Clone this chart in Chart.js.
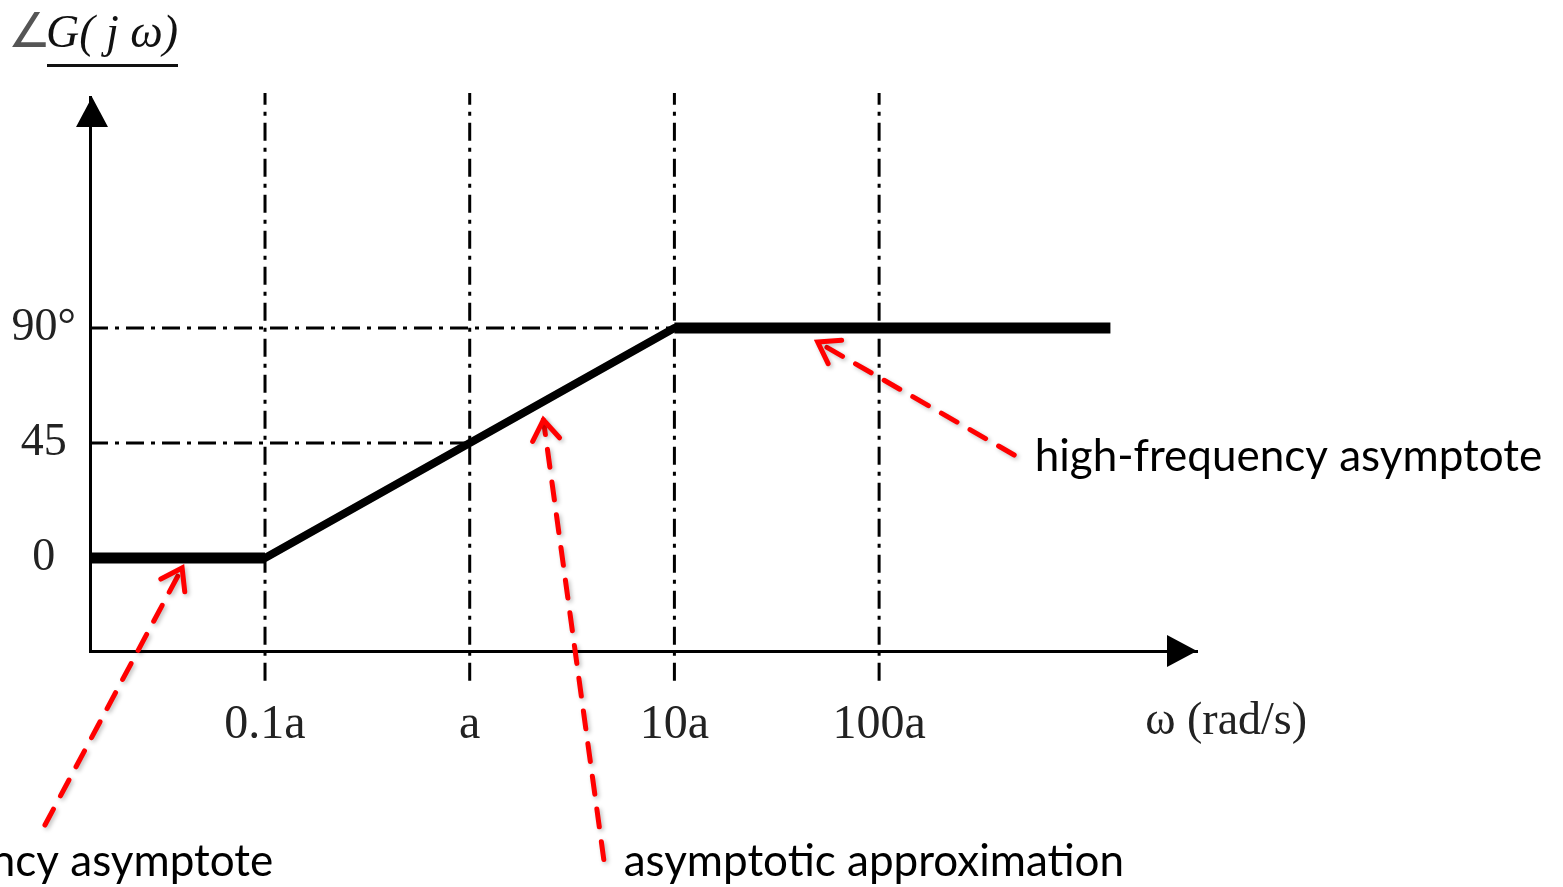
<!DOCTYPE html>
<html>
<head>
<meta charset="utf-8">
<script src="https://cdn.jsdelivr.net/npm/chart.js@4.4.0/dist/chart.umd.min.js"></script>
<style>
  html, body { margin: 0; padding: 0; background: #fff; overflow: hidden; }
  canvas { display: block; }
</style>
</head>
<body>
<canvas id="bode" width="1563" height="887"></canvas>
<script>
// x axis in decades: log10(omega / a)
const xTicks = [-1, 0, 1, 2];
const xTickLabels = ['0.1a', 'a', '10a', '100a'];
const yTicks = [0, 45, 90];
const yTickLabels = ['0', '45', '90°'];

// asymptotic phase approximation
const lowX = [-1.855, -1];
const lowY = [0, 0];
const slopeX = [-1, 1];
const slopeY = [0, 90];
const highX = [1, 3.13];
const highY = [90, 90];

// dash-dot reference lines
const guide90X = [-1.855, 1];
const guide45X = [-1.855, 0];
const guideSpan = [-48, 182];

const pts = (xs, ys) => xs.map((x, i) => ({ x: x, y: ys[i] }));
const dashDot = [18, 7, 4, 7];

const datasets = [
  { data: pts(lowX, lowY), borderColor: '#000', borderWidth: 11, borderCapStyle: 'butt' },
  { data: pts(slopeX, slopeY), borderColor: '#000', borderWidth: 8, borderCapStyle: 'round' },
  { data: pts(highX, highY), borderColor: '#000', borderWidth: 11, borderCapStyle: 'butt' },
  { data: pts(guide90X, [90, 90]), borderColor: '#000', borderWidth: 3, borderDash: dashDot },
  { data: pts(guide45X, [45, 45]), borderColor: '#000', borderWidth: 3, borderDash: dashDot },
];
xTicks.forEach(v => {
  datasets.push({
    data: pts([v, v], guideSpan),
    borderColor: '#000', borderWidth: 3, borderDash: dashDot, clip: false
  });
});
datasets.forEach(d => { d.pointRadius = 0; d.fill = false; d.tension = 0; });

// seta vermelha tracejada
function redArrow(ctx, x1, y1, x2, y2) {
  ctx.save();
  ctx.strokeStyle = '#ff0000';
  ctx.lineWidth = 5;
  ctx.lineCap = 'round';
  ctx.shadowColor = 'rgba(0,0,0,0.25)';
  ctx.shadowBlur = 4;
  ctx.shadowOffsetX = 2;
  ctx.shadowOffsetY = 2;
  ctx.setLineDash([18, 15]);
  ctx.beginPath();
  ctx.moveTo(x1, y1);
  ctx.lineTo(x2, y2);
  ctx.stroke();
  const ang = Math.atan2(y2 - y1, x2 - x1);
  ctx.setLineDash([]);
  ctx.lineJoin = 'miter';
  ctx.beginPath();
  ctx.moveTo(x2 - 24 * Math.cos(ang - 0.6), y2 - 24 * Math.sin(ang - 0.6));
  ctx.lineTo(x2, y2);
  ctx.lineTo(x2 - 24 * Math.cos(ang + 0.6), y2 - 24 * Math.sin(ang + 0.6));
  ctx.stroke();
  ctx.restore();
}

const decor = {
  id: 'decor',
  afterDraw(chart) {
    const ctx = chart.ctx;
    const xs = chart.scales.x, ys = chart.scales.y;
    const a = chart.chartArea;
    const px = v => xs.getPixelForValue(v);
    const py = v => ys.getPixelForValue(v);

    ctx.save();
    // arrowheads on the axes
    ctx.fillStyle = '#000';
    ctx.beginPath();
    ctx.moveTo(a.left + 2, a.top);
    ctx.lineTo(a.left - 14, a.top + 30);
    ctx.lineTo(a.left + 18, a.top + 30);
    ctx.closePath();
    ctx.fill();
    ctx.beginPath();
    ctx.moveTo(a.right, a.bottom);
    ctx.lineTo(a.right - 30, a.bottom - 16);
    ctx.lineTo(a.right - 30, a.bottom + 16);
    ctx.closePath();
    ctx.fill();

    // axis title on top
    ctx.textBaseline = 'alphabetic';
    ctx.textAlign = 'left';
    ctx.fillStyle = '#555';
    ctx.font = '48px "Liberation Serif", serif';
    ctx.fillText('∠', 8, 47);
    ctx.fillStyle = '#111';
    ctx.font = 'italic 46px "Liberation Serif", serif';
    ctx.fillText('G( j ω)', 46, 47);
    ctx.fillRect(47, 64, 131, 3);

    // omega label
    ctx.font = '46px "Liberation Serif", serif';
    ctx.fillStyle = '#222';
    ctx.textBaseline = 'middle';
    ctx.fillText('ω (rad/s)', px(3.30), py(-64));

    // annotations
    redArrow(ctx, px(2.66), py(40.3), px(1.70), py(84.5));
    redArrow(ctx, px(0.655), py(-118), px(0.36), py(54));
    redArrow(ctx, px(-2.075), py(-104.5), px(-1.405), py(-3.9));

    ctx.fillStyle = '#000';
    ctx.font = '44px Lato, sans-serif';
    ctx.textAlign = 'left';
    ctx.fillText('high-frequency asymptote', px(2.76), py(39.5));
    ctx.fillText('asymptotic approximation', px(0.752), py(-119));
    ctx.textAlign = 'right';
    ctx.fillText('low-frequency asymptote', px(-0.96), py(-119));
    ctx.restore();
  }
};

new Chart(document.getElementById('bode'), {
  type: 'line',
  data: { datasets: datasets },
  options: {
    responsive: false,
    animation: false,
    events: [],
    layout: { padding: { top: 97, right: 366, left: 0, bottom: 0 } },
    plugins: { legend: { display: false }, tooltip: { enabled: false } },
    scales: {
      x: {
        type: 'linear',
        min: -1.855,
        max: 3.553,
        afterBuildTicks: s => { s.ticks = xTicks.map(v => ({ value: v })); },
        afterFit: s => { s.height = 236; },
        grid: { display: false },
        border: { display: true, color: '#000', width: 3 },
        ticks: {
          padding: 38,
          color: '#222',
          font: { family: '"Liberation Serif", serif', size: 48 },
          callback: v => xTickLabels[xTicks.indexOf(v)]
        }
      },
      y: {
        type: 'linear',
        min: -36.4,
        max: 180.4,
        afterBuildTicks: s => { s.ticks = yTicks.map(v => ({ value: v })); },
        afterFit: s => { s.width = 90; },
        grid: { display: false },
        border: { display: true, color: '#000', width: 3 },
        ticks: {
          padding: 6,
          crossAlign: 'center',
          color: '#222',
          font: { family: '"Liberation Serif", serif', size: 46 },
          callback: v => yTickLabels[yTicks.indexOf(v)]
        }
      }
    }
  },
  plugins: [decor]
});
</script>
</body>
</html>
